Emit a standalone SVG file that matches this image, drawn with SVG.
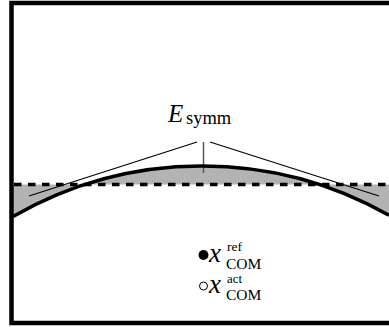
<svg xmlns="http://www.w3.org/2000/svg" width="389" height="327" viewBox="0 0 389 327">
<style>
.serif{font-family:"Liberation Serif","DejaVu Serif",serif;fill:#000}
.it{font-style:italic}
.thin{stroke:#000;stroke-width:1.2;fill:none}
</style>
<rect width="389" height="327" fill="#fff"/>
<g id="region">
<path d="M13,184.5 L389,184.5 L389,215.3 A379,379 0 0 0 13,216.5 Z" fill="#b3b3b3"/>
</g>
<g id="connectors">
<line class="thin" x1="29" y1="196" x2="197" y2="142"/>
<line class="thin" x1="210" y1="142" x2="379" y2="196"/>
<line x1="203.5" y1="142" x2="203.5" y2="173" stroke="#555" stroke-width="1.5"/>
</g>
<g id="reference-line">
<line x1="14" y1="184.5" x2="389" y2="184.5" stroke="#000" stroke-width="3.4" stroke-dasharray="7.5 6.5"/>
</g>
<g id="arc">
<path d="M13,216.5 A379,379 0 0 1 389,215.3" fill="none" stroke="#000" stroke-width="3.5"/>
</g>
<g id="label-esymm">
<text class="serif" x="168" y="122"><tspan class="it" font-size="25">E</tspan><tspan x="186" y="124" font-size="18.5">symm</tspan></text>
</g>
<g id="com-ref">
<circle cx="203.5" cy="255" r="5" fill="#000"/>
<text class="serif" x="209" y="262"><tspan class="it" font-size="27">x</tspan><tspan x="227" y="251" font-size="13.5">ref</tspan><tspan x="226" y="268.5" font-size="15.5">COM</tspan></text>
</g>
<g id="com-act">
<circle cx="203.5" cy="286" r="4" fill="#fff" stroke="#000" stroke-width="1"/>
<text class="serif" x="209" y="293"><tspan class="it" font-size="27">x</tspan><tspan x="227" y="282.5" font-size="13">act</tspan><tspan x="226" y="300" font-size="15.5">COM</tspan></text>
</g>
<g id="frame">
<path d="M400,3 L11.5,3 L11.5,323 L400,323" fill="none" stroke="#000" stroke-width="4.5"/>
</g>
</svg>
